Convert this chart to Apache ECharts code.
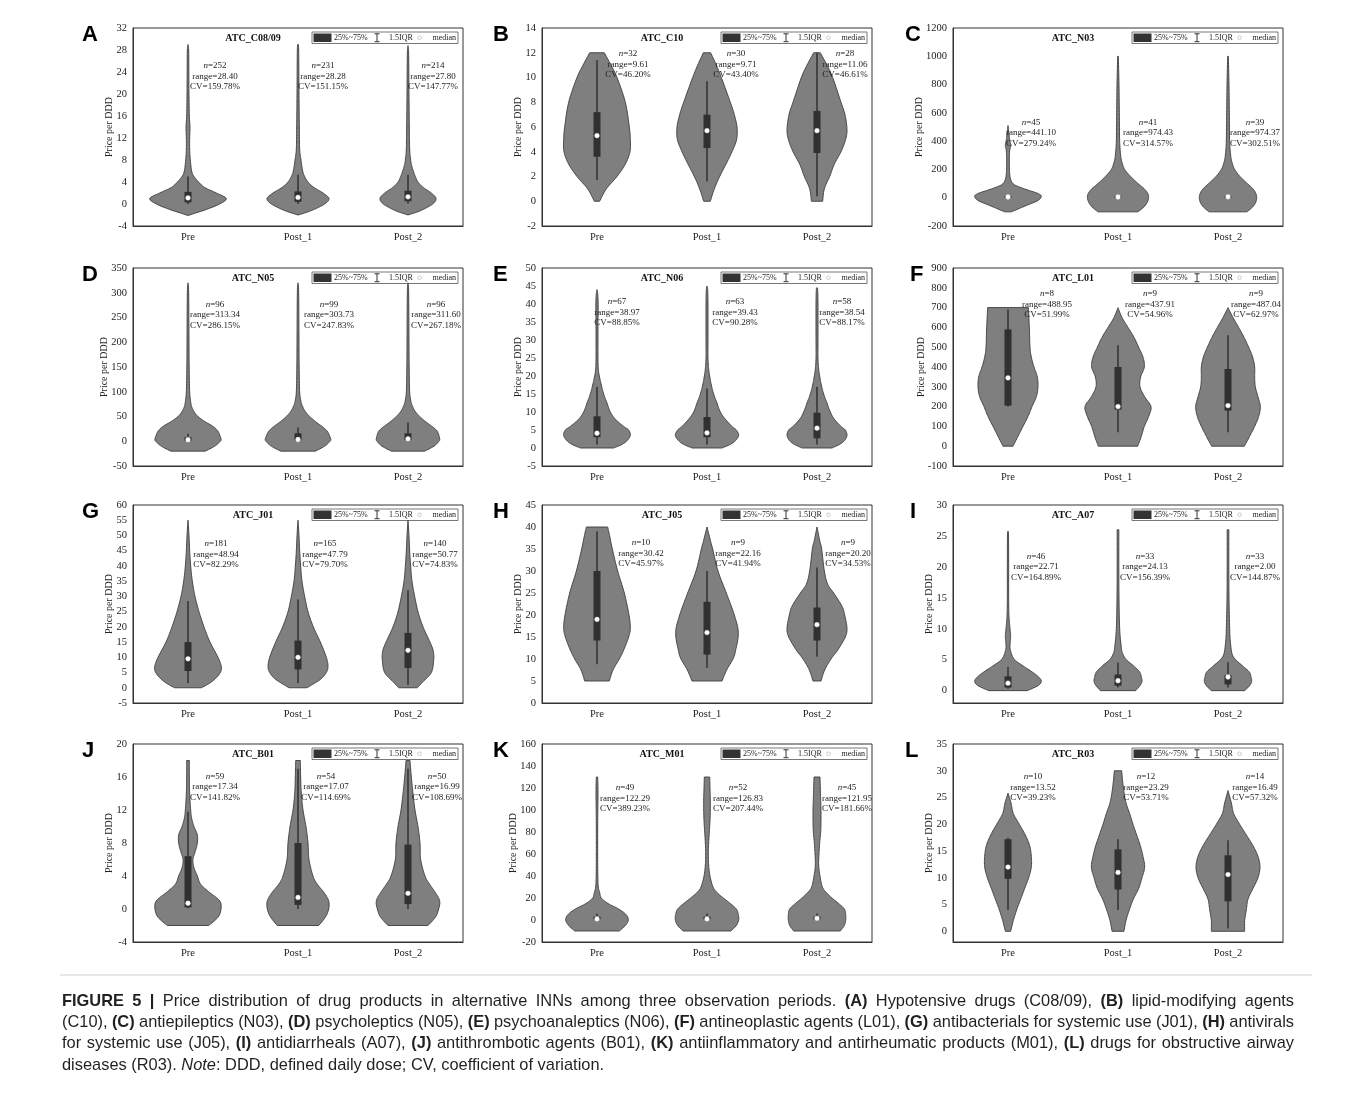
<!DOCTYPE html>
<html>
<head>
<meta charset="utf-8">
<script src="https://cdn.jsdelivr.net/npm/echarts@6/dist/echarts.min.js"></script>
<style>html,body{margin:0;padding:0;background:#fff}#chart{width:1357px;height:1095px}</style>
</head>
<body>
<div id="chart"></div>
<script>
// ---------------- DATA ----------------
const categories = ['Pre', 'Post_1', 'Post_2'];
const panelLetters = ['A','B','C','D','E','F','G','H','I','J','K','L'];
const panelTitles = ['ATC_C08/09','ATC_C10','ATC_N03','ATC_N05','ATC_N06','ATC_L01',
                     'ATC_J01','ATC_J05','ATC_A07','ATC_B01','ATC_M01','ATC_R03'];

// y-axis extents and tick labels
const yRanges = [[-4,32],[-2,14],[-200,1200],[-50,350],[-5,50],[-100,900],
                 [-5,60],[0,45],[-2,30],[-4,20],[-20,160],[-2,35]];
const yTicksA = [-4,0,4,8,12,16,20,24,28,32];
const yTicksB = [-2,0,2,4,6,8,10,12,14];
const yTicksC = [-200,0,200,400,600,800,1000,1200];
const yTicksD = [-50,0,50,100,150,200,250,300,350];
const yTicksE = [-5,0,5,10,15,20,25,30,35,40,45,50];
const yTicksF = [-100,0,100,200,300,400,500,600,700,800,900];
const yTicksG = [-5,0,5,10,15,20,25,30,35,40,45,50,55,60];
const yTicksH = [0,5,10,15,20,25,30,35,40,45];
const yTicksI = [0,5,10,15,20,25,30];
const yTicksJ = [-4,0,4,8,12,16,20];
const yTicksK = [-20,0,20,40,60,80,100,120,140,160];
const yTicksL = [0,5,10,15,20,25,30,35];

// annotation statistics per period: [n, range, CV%]
const statsA = [[252,28.40,159.78],[231,28.28,151.15],[214,27.80,147.77]];
const statsB = [[32,9.61,46.20],[30,9.71,43.40],[28,11.06,46.61]];
const statsC = [[45,441.10,279.24],[41,974.43,314.57],[39,974.37,302.51]];
const statsD = [[96,313.34,286.15],[99,303.73,247.83],[96,311.60,267.18]];
const statsE = [[67,38.97,88.85],[63,39.43,90.28],[58,38.54,88.17]];
const statsF = [[8,488.95,51.99],[9,437.91,54.96],[9,487.04,62.97]];
const statsG = [[181,48.94,82.29],[165,47.79,79.70],[140,50.77,74.83]];
const statsH = [[10,30.42,45.97],[9,22.16,41.94],[9,20.20,34.53]];
const statsI = [[46,22.71,164.89],[33,24.13,156.39],[33,2.00,144.87]];
const statsJ = [[59,17.34,141.82],[54,17.07,114.69],[50,16.99,108.69]];
const statsK = [[49,122.29,389.23],[52,126.83,207.44],[45,121.95,181.66]];
const statsL = [[10,13.52,39.23],[12,23.29,53.71],[14,16.49,57.32]];

// box stats per period: [lower whisker, Q1, median, Q3, upper whisker]
const boxA = [[0,0.3,1.1,2.2,5.0],[0,0.4,1.2,2.3,5.3],[0.1,0.5,1.3,2.4,5.3]];
const boxB = [[1.7,3.6,5.3,7.2,11.4],[1.6,4.3,5.7,7.0,9.7],[0.4,3.9,5.7,7.3,12.0]];
const boxC = [[0,1,5,10,15],[0,1,5,10,15],[0,1,6,10,15]];
const boxD = [[0.5,1,3,8,15],[0.5,2,3.5,16,28],[0.5,3,5,16,38]];
const boxE = [[1,3,4.1,8.8,17],[1,3,4.2,8.6,16.5],[1,2.7,5.5,9.8,17]];
const boxF = [[200,205,345,590,690],[70,185,200,400,510],[70,180,205,390,560]];
const boxG = [[1.5,5.5,9.5,15,28.5],[1.5,6,10,15.5,29],[1,6.5,12.3,18,32]];
const boxH = [[8.8,14.2,19,30,39],[8,11,16,23,30],[10.5,14.2,17.8,21.7,30.8]];
const boxI = [[0.3,0.5,1.2,2.3,3.8],[0.5,0.8,1.6,2.6,4.5],[0.5,1,2.2,2.5,4.6]];
const boxJ = [[0.1,0.2,0.7,6.4,11.8],[0,0.5,1.4,8,17],[0,0.6,1.9,7.8,17]];
const boxK = [[0,0.5,1,3,6],[0,0.5,1,3,6],[0,0.5,1.5,3,6]];
const boxL = [[4,9.8,12,17.2,17.5],[4,7.8,11,15.3,17.2],[0.5,5.6,10.6,14.2,17]];

// violin density profiles per period: [price, relative density (0-100)]
const violinA = [
  [[-2.1,0],[-1.5,30],[-1,55],[0,95],[1,115],[2,85],[3,50],[4,32],[5,18],[6,11],[8,7],[10,5],[12,5],[14,6],[16,4],[20,3],[24,2.5],[28,2],[29,0]],
  [[-2,0],[-1.2,40],[0,80],[1,93],[2,75],[3,48],[4,30],[5,20],[6,14],[8,9],[10,5],[14,4],[20,3],[28,2],[29,0]],
  [[-2,0],[-1.2,38],[0,74],[1,84],[2,70],[3,46],[4,30],[5,22],[6,16],[7,11],[8,8],[10,5],[14,4],[20,3],[27,2],[28.8,0]]
];
const violinB = [
  [[0,8],[1,28],[2,60],[3,85],[4,99],[5,100],[6,97],[8,85],[10,60],[11,42],[12,22]],
  [[0,10],[1,22],[2,38],[3,57],[4,75],[5,89],[6,90],[7,82],[8,70],[10,43],[11,28],[12,11]],
  [[0,17],[1,22],[2,38],[3,52],[4,72],[5,86],[5.8,90],[7,84],[8,72],[10,47],[11,30],[12,10]]
];
const violinC = [
  [[-100,10],[-80,30],[-50,60],[-20,90],[10,100],[30,90],[50,65],[75,35],[100,15],[150,6],[250,4],[330,5],[370,8],[410,5],[450,3],[510,0]],
  [[-100,60],[-60,80],[-20,90],[20,91],[60,80],[100,60],[150,38],[200,20],[250,12],[300,8],[400,5],[600,4],[800,3],[1000,1]],
  [[-100,57],[-60,76],[-20,85],[20,85],[60,76],[100,58],[150,36],[200,20],[250,12],[300,8],[400,5],[600,4],[800,3],[1000,1]]
];
const violinD = [
  [[-20,52],[-10,80],[0,97],[5,99],[20,90],[30,75],[40,50],[50,30],[60,18],[70,11],[80,8],[100,5],[150,3.5],[200,3],[300,2],[320,0]],
  [[-20,52],[-10,80],[0,96],[5,98],[20,88],[30,72],[40,52],[50,35],[60,22],[70,14],[80,9],[100,5],[150,3.5],[200,3],[300,2],[320,0]],
  [[-20,50],[-10,78],[0,93],[5,95],[20,88],[30,72],[40,52],[50,35],[60,22],[70,14],[80,9],[100,5],[150,3.5],[200,3],[300,2],[320,0]]
];
const violinE = [
  [[0,50],[1,75],[2,90],[3.5,100],[5,95],[6,80],[8,55],[10,40],[12.5,30],[15,20],[17.5,13],[20,7],[22,4],[25,3],[30,3],[35,3],[40,3.5],[43,2],[44,0]],
  [[0,45],[1,70],[2,85],[3.5,95],[5,88],[6,75],[8,55],[10,40],[12.5,30],[15,20],[17.5,13],[20,8],[22,5],[25,3],[30,3],[40,3],[44,2],[45,0]],
  [[0,45],[1,68],[2,82],[3.5,90],[5,85],[6,72],[8,52],[10,40],[12.5,30],[15,20],[17.5,13],[20,8],[22,5],[25,3],[30,3],[40,3],[44,2],[44.5,0]]
];
const violinF = [
  [[0,15],[50,30],[100,45],[150,60],[200,72],[250,85],[300,90],[350,88],[400,78],[450,70],[500,66],[600,64],[700,61]],
  [[0,59],[50,70],[100,79],[150,92],[200,99],[250,80],[300,66],[350,68],[400,79],[450,75],[500,62],[550,48],[600,30],[650,12],[700,0]],
  [[0,49],[50,65],[100,80],[150,92],[200,97],[250,90],[300,82],[350,80],[400,80],[450,74],[500,62],[550,48],[600,32],[650,15],[700,0]]
];
const violinG = [
  [[0,40],[1.5,65],[3,82],[5,97],[7,100],[10,90],[15,66],[20,48],[25,33],[30,21],[35,13],[40,8],[45,5],[50,3],[55,0]],
  [[0,27],[1.5,50],[3,70],[5,85],[7,90],[10,85],[15,67],[20,46],[25,30],[30,20],[35,12],[40,8],[45,5],[50,3],[55,0]],
  [[0,28],[2,45],[5,70],[9,77],[12,76],[15,66],[20,45],[25,30],[30,20],[35,12],[40,8],[45,5],[50,3],[55,0]]
];
const violinH = [
  [[5,37],[7.5,48],[10,67],[12,80],[15,95],[17,100],[20,96],[25,82],[30,62],[35,46],[38,38],[40,32]],
  [[5,45],[7.5,59],[10,78],[12,86],[16,94],[20,82],[25,58],[30,33],[35,17],[37,10],[40,0]],
  [[5,12],[7.5,23],[10,42],[12,62],[15,85],[17,90],[20,83],[22,75],[25,50],[27,32],[30,22],[35,14],[37,8],[40,0]]
];
const violinI = [
  [[0,58],[0.8,90],[1.5,100],[2.2,92],[3,73],[4,45],[5,20],[6,10],[7,6],[8,7],[8.8,8],[10,6],[12,3],[15,2],[20,2],[25,1.5],[25.8,0]],
  [[0,53],[0.8,66],[1.5,72],[2.2,70],[3,65],[4,47],[5,25],[6,14],[7,10],[10,5],[15,3],[20,2.5],[26,2.5]],
  [[0,50],[0.8,65],[1.5,71],[2.2,69],[3,64],[4,44],[5,23],[6,12],[8,7],[10,5],[15,3],[20,2.5],[26,2.5]]
];
const violinJ = [
  [[-2,62],[-1,90],[0,99],[1,95],[2,65],[3,38],[4,28],[5,18],[6,15],[7,22],[8,28],[9,28],[10,18],[11,11],[12,8],[14,5],[16,4],[18,4]],
  [[-2,62],[-1,82],[0,92],[1,92],[2,78],[3,58],[4,45],[6,33],[8,30],[10,24],[12,15],[14,10],[16,8],[18,7]],
  [[-2,60],[-1,82],[0,92],[1,95],[2,82],[3,65],[4,51],[6,38],[8,36],[10,30],[12,21],[14,15],[16,10],[18,6]]
];
const violinK = [
  [[-10,67],[-5,85],[0,94],[5,87],[10,65],[15,33],[20,13],[25,8],[30,4],[40,2.5],[60,2],[80,2],[100,2.5],[110,3],[120,3],[130,2]],
  [[-10,72],[-5,88],[0,95],[5,94],[10,88],[15,70],[20,49],[25,30],[30,18],[40,9],[50,5],[60,4],[70,5],[80,7],[90,9],[100,10],[110,10],[120,9],[130,8]],
  [[-10,70],[-5,82],[0,86],[5,86],[10,82],[15,65],[20,45],[25,28],[30,16],[40,9],[50,5],[60,6],[70,8],[80,11],[90,12],[100,12],[110,11],[120,10],[130,9]]
];
const violinL = [
  [[0,8],[2,16],[4,26],[6,38],[8,50],[10,62],[12,70],[14,70],[16,65],[18,52],[20,34],[22,16],[24,9],[25.8,0]],
  [[0,18],[2,24],[4,34],[6,46],[8,62],[10,72],[12,80],[14,75],[16,67],[18,56],[20,45],[22,35],[24,24],[26,18],[28,14],[30,11]],
  [[0,50],[2,50],[4,55],[6,60],[8,75],[10,90],[12,96],[14,90],[16,75],[18,55],[20,35],[22,17],[24,10],[26.3,0]]
];

// y value (price) at which the "range=" annotation line is centred
const annotationY = [23.2, 11.05, 459, 255, 37.6, 717, 43.8, 34, 20, 14.8, 110.6, 26.9];

// caption: segments of [style, text]  (r = regular, b = bold, i = italic)
const captionLine1 = [['b','FIGURE 5 |'],['r',' Price distribution of drug products in alternative INNs among three observation periods. '],['b','(A)'],['r',' Hypotensive drugs (C08/09), '],['b','(B)'],['r',' lipid-modifying agents']];
const captionLine2 = [['r','(C10), '],['b','(C)'],['r',' antiepileptics (N03), '],['b','(D)'],['r',' psycholeptics (N05), '],['b','(E)'],['r',' psychoanaleptics (N06), '],['b','(F)'],['r',' antineoplastic agents (L01), '],['b','(G)'],['r',' antibacterials for systemic use (J01), '],['b','(H)'],['r',' antivirals']];
const captionLine3 = [['r','for systemic use (J05), '],['b','(I)'],['r',' antidiarrheals (A07), '],['b','(J)'],['r',' antithrombotic agents (B01), '],['b','(K)'],['r',' antiinflammatory and antirheumatic products (M01), '],['b','(L)'],['r',' drugs for obstructive airway']];
const captionLine4 = [['r','diseases (R03). '],['i','Note'],['r',': DDD, defined daily dose; CV, coefficient of variation.']];

const panelTicks = [yTicksA,yTicksB,yTicksC,yTicksD,yTicksE,yTicksF,yTicksG,yTicksH,yTicksI,yTicksJ,yTicksK,yTicksL];
const panelStats = [statsA,statsB,statsC,statsD,statsE,statsF,statsG,statsH,statsI,statsJ,statsK,statsL];
const panelBoxes = [boxA,boxB,boxC,boxD,boxE,boxF,boxG,boxH,boxI,boxJ,boxK,boxL];
const panelViolins = [violinA,violinB,violinC,violinD,violinE,violinF,violinG,violinH,violinI,violinJ,violinK,violinL];
const captionLines = [captionLine1, captionLine2, captionLine3, captionLine4];

// ---------------- LAYOUT / STYLE ----------------
const COL_LEFT = [133, 542, 953];
const ROW_TOP = [28, 268, 505, 744];
const LETTER_X = [82, 493, 905, 82, 493, 910, 82, 493, 910, 82, 493, 905];
const GRID_W = 330, GRID_H = 198;
const VIOLIN_SCALE = 0.303;     // half-width (fraction of band) at density 100
const LABEL_DX = [[27,25,25],[31,29,28],[23,30,27],[27,31,28],[20,28,25],[39,32,28],
                  [28,27,27],[44,31,31],[28,27,27],[27,28,29],[28,31,30],[25,28,27]];
const SERIF = '"Liberation Serif", "Times New Roman", serif';
const SANS = '"Liberation Sans", Arial, sans-serif';
const VIOLIN_FILL = '#7f7f7f', VIOLIN_STROKE = '#3c3c3c', BOX_COLOR = '#303030';
const CAP_COLOR = '#231f20';
const CAP_SIZE = 16.4;
const CAP_FONTS = { r: CAP_SIZE + 'px ' + SANS, b: 'bold ' + CAP_SIZE + 'px ' + SANS, i: 'italic ' + CAP_SIZE + 'px ' + SANS };
const CAP_LEFT = 62, CAP_RIGHT = 1294;
const CAP_Y = [1001, 1022, 1043.5, 1065];
const TICK_FONT_SIZE = 10.5;

const measureCtx = document.createElement('canvas').getContext('2d');
function textWidth(text, font) { measureCtx.font = font; return measureCtx.measureText(text).width; }

function catmull(pts, steps) {
  const out = [];
  const n = pts.length;
  for (let i = 0; i < n - 1; i++) {
    const p0 = pts[Math.max(i - 1, 0)], p1 = pts[i], p2 = pts[i + 1], p3 = pts[Math.min(i + 2, n - 1)];
    for (let s = 0; s < steps; s++) {
      const t = s / steps, t2 = t * t, t3 = t2 * t;
      const f = (a, b, c, d) => 0.5 * ((2 * b) + (-a + c) * t + (2 * a - 5 * b + 4 * c - d) * t2 + (-a + 3 * b - 3 * c + d) * t3);
      out.push([Math.max(0, f(p0[0], p1[0], p2[0], p3[0])), f(p0[1], p1[1], p2[1], p3[1])]);
    }
  }
  out.push(pts[n - 1]);
  return out;
}

function makeRenderItem(p) {
  return function (params, api) {
    const k = api.value(0);
    const shape = panelViolins[p][k];
    const box = panelBoxes[p][k];
    const st = panelStats[p][k];
    const band = api.size([1, 0])[0];
    const cx = api.coord([k, 0])[0];
    const Y = v => api.coord([k, v])[1];
    const pts = shape.map(([y, d]) => [d / 100 * VIOLIN_SCALE * band, Y(y)]);
    const curve = catmull(pts, 8);
    const right = curve.map(([w, y]) => [cx + w, y]);
    const left = curve.slice().reverse().map(([w, y]) => [cx - w, y]);
    const ly = Y(annotationY[p]);
    const lx = cx + LABEL_DX[p][k];
    const txt = (text, dy) => ({
      type: 'text', x: lx, y: ly + dy,
      style: { text: text, font: '9px ' + SERIF, fill: '#222', align: 'center', textAlign: 'center',
               verticalAlign: 'middle', textVerticalAlign: 'middle',
               rich: { i: { font: 'italic 9px ' + SERIF, fill: '#222' } } }
    });
    return {
      type: 'group',
      children: [
        { type: 'polygon', shape: { points: right.concat(left) },
          style: { fill: VIOLIN_FILL, stroke: VIOLIN_STROKE, lineWidth: 0.9 } },
        { type: 'line', shape: { x1: cx, y1: Y(box[0]), x2: cx, y2: Y(box[4]) },
          style: { stroke: BOX_COLOR, lineWidth: 1.5 } },
        { type: 'rect', shape: { x: cx - 3.5, y: Y(box[3]), width: 7, height: Y(box[1]) - Y(box[3]) },
          style: { fill: BOX_COLOR } },
        { type: 'circle', shape: { cx: cx, cy: Y(box[2]), r: 2.4 },
          style: { fill: '#ffffff', stroke: '#dddddd', lineWidth: 0.4 } },
        txt('{i|n}=' + st[0], -10.5),
        txt('range=' + st[1].toFixed(2), 0),
        txt('CV=' + st[2].toFixed(2) + '%', 10.5)
      ]
    };
  };
}

function legendGroup(x, y) {
  const t = (text, tx, align) => ({
    type: 'text', x: tx, y: 5.7,
    style: { text: text, font: '8px ' + SERIF, fill: '#222', align: align, textAlign: align,
             verticalAlign: 'middle', textVerticalAlign: 'middle' }
  });
  return {
    type: 'group', x: x, y: y, z: 10,
    children: [
      { type: 'rect', shape: { x: 0, y: 0, width: 146, height: 11.5 },
        style: { fill: '#ffffff', stroke: '#555', lineWidth: 0.8 } },
      { type: 'rect', shape: { x: 1.5, y: 1.5, width: 18, height: 8.5 }, style: { fill: '#333' } },
      t('25%~75%', 22, 'left'),
      { type: 'line', shape: { x1: 65, y1: 1.8, x2: 65, y2: 9.7 }, style: { stroke: '#333', lineWidth: 1 } },
      { type: 'line', shape: { x1: 62.5, y1: 1.8, x2: 67.5, y2: 1.8 }, style: { stroke: '#333', lineWidth: 1 } },
      { type: 'line', shape: { x1: 62.5, y1: 9.7, x2: 67.5, y2: 9.7 }, style: { stroke: '#333', lineWidth: 1 } },
      t('1.5IQR', 77, 'left'),
      { type: 'circle', shape: { cx: 107.5, cy: 5.75, r: 1.8 }, style: { fill: '#fff', stroke: '#aaa', lineWidth: 0.6 } },
      t('median', 144, 'right')
    ]
  };
}

// justified caption lines built from word pieces
function captionElements(segments, y, justify) {
  const pieces = [];
  let pendingSpace = false;
  segments.forEach(([sty, text]) => {
    text.split(' ').forEach((part, j) => {
      if (j > 0) pendingSpace = true;
      if (part === '') return;
      pieces.push({ text: part, font: CAP_FONTS[sty], space: pendingSpace && pieces.length > 0 });
      pendingSpace = false;
    });
  });
  pieces.forEach(pc => { pc.w = textWidth(pc.text, pc.font); });
  const nGaps = pieces.filter(pc => pc.space).length;
  const wordsW = pieces.reduce((s, pc) => s + pc.w, 0);
  let gap = textWidth(' ', CAP_FONTS.r);
  if (justify && nGaps > 0) gap = (CAP_RIGHT - CAP_LEFT - wordsW) / nGaps;
  let x = CAP_LEFT;
  return pieces.map(pc => {
    if (pc.space) x += gap;
    const el = { type: 'text', x: x, y: y,
      style: { text: pc.text, font: pc.font, fill: CAP_COLOR, align: 'left', textAlign: 'left',
               verticalAlign: 'middle', textVerticalAlign: 'middle' } };
    x += pc.w;
    return el;
  });
}

const grids = [], xAxes = [], yAxes = [], series = [], graphics = [];
for (let p = 0; p < 12; p++) {
  const left = COL_LEFT[p % 3], top = ROW_TOP[Math.floor(p / 3)];
  const labelW = Math.max(...panelTicks[p].map(v => textWidth(String(v), TICK_FONT_SIZE + 'px ' + SERIF)));
  grids.push({ left: left, top: top, width: GRID_W, height: GRID_H, show: true,
               borderColor: '#333', borderWidth: 1, backgroundColor: 'transparent' });
  xAxes.push({
    type: 'category', gridIndex: p, data: categories, boundaryGap: true,
    axisLine: { onZero: false, lineStyle: { color: '#333', width: 1 } },
    axisTick: { inside: true, alignWithLabel: true, length: 4, lineStyle: { color: '#333' } },
    axisLabel: { fontFamily: SERIF, fontSize: TICK_FONT_SIZE, color: '#222', margin: 6 }
  });
  yAxes.push({
    type: 'value', gridIndex: p, min: yRanges[p][0], max: yRanges[p][1],
    splitLine: { show: false },
    axisLine: { show: true, onZero: false, lineStyle: { color: '#333', width: 1 } },
    axisTick: { show: false },
    axisLabel: { customValues: panelTicks[p], formatter: v => String(v),
                 fontFamily: SERIF, fontSize: TICK_FONT_SIZE, color: '#222', margin: 6 },
    name: 'Price per DDD', nameLocation: 'middle', nameGap: Math.round(labelW + 8),
    nameMoveOverlap: false,
    nameTextStyle: { fontFamily: SERIF, fontSize: 10, color: '#222' }
  });
  series.push({
    type: 'custom', xAxisIndex: p, yAxisIndex: p,
    data: categories.map((c, k) => [k]),
    encode: { x: 0 },
    renderItem: makeRenderItem(p),
    silent: true, animation: false, clip: false
  });
  graphics.push({
    type: 'text', x: LETTER_X[p], y: top - 4,
    style: { text: panelLetters[p], font: 'bold 22px ' + SANS, fill: '#000',
             align: 'left', textAlign: 'left', verticalAlign: 'top', textVerticalAlign: 'top' }
  });
  graphics.push({
    type: 'text', x: left + 120, y: top + 10, z: 10,
    style: { text: panelTitles[p], font: 'bold 10px ' + SERIF, fill: '#111',
             align: 'center', textAlign: 'center', verticalAlign: 'middle', textVerticalAlign: 'middle' }
  });
  graphics.push(legendGroup(left + GRID_W - 151, top + 4));
}

graphics.push({ type: 'line', shape: { x1: 60, y1: 975, x2: 1312, y2: 975 },
                style: { stroke: '#cfcfcf', lineWidth: 1 } });
captionLines.forEach((segs, i) => {
  captionElements(segs, CAP_Y[i], i < captionLines.length - 1).forEach(el => graphics.push(el));
});

const chart = echarts.init(document.getElementById('chart'), null, { renderer: 'canvas' });
chart.setOption({
  animation: false,
  backgroundColor: '#ffffff',
  grid: grids, xAxis: xAxes, yAxis: yAxes, series: series,
  graphic: { elements: graphics }
});
</script>
</body>
</html>
